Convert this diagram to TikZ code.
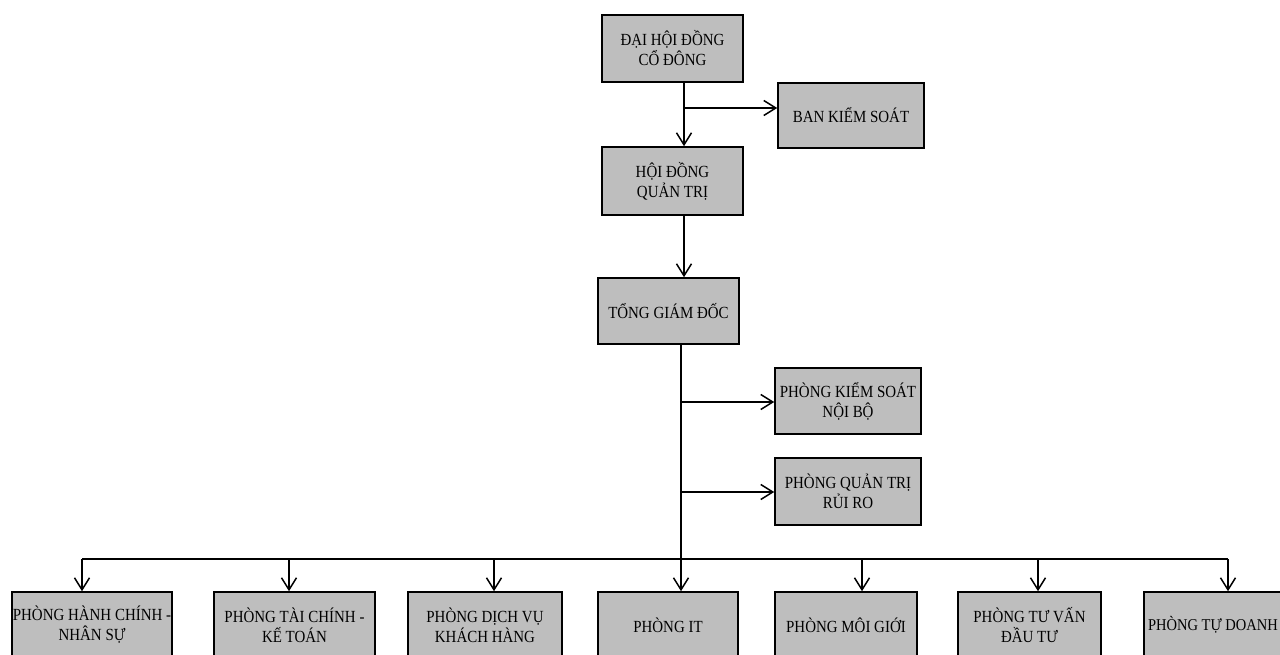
\documentclass[tikz,border=0pt]{standalone}
\usepackage{fontspec}
\setmainfont{Liberation Serif}[FakeStretch=0.88]
\usetikzlibrary{arrows.meta}
\definecolor{boxgray}{RGB}{190,190,190}
\tikzset{
  box/.style={draw=black, line width=1.6pt, fill=boxgray, align=center,
    font=\fontsize{17}{20}\selectfont, inner sep=0pt},
  arr/.style={line width=1.5pt, -{Straight Barb[length=12pt,width=15pt]}},
  ln/.style={line width=1.5pt}
}
\begin{document}
\begin{tikzpicture}[x=1pt,y=-1pt]
\useasboundingbox (0,0) rectangle (1280,655);
\fill[white] (0,0) rectangle (1280,655);
\clip (0,0) rectangle (1280,655);
% upper boxes
\node[box, minimum width=141pt, minimum height=67pt] (dh) at (672.5,48.5) {ĐẠI HỘI ĐỒNG\\CỔ ĐÔNG};
\node[box, minimum width=146pt, minimum height=65pt] (bks) at (851,115.5) {BAN KIỂM SOÁT};
\node[box, minimum width=141pt, minimum height=68pt] (hd) at (672.5,181) {HỘI ĐỒNG\\QUẢN TRỊ};
\node[box, minimum width=141pt, minimum height=66pt] (tgd) at (668.5,311) {TỔNG GIÁM ĐỐC};
\node[box, minimum width=146pt, minimum height=66pt] (ks) at (848,401) {PHÒNG KIỂM SOÁT\\NỘI BỘ};
\node[box, minimum width=146pt, minimum height=67pt] (qt) at (848,491.5) {PHÒNG QUẢN TRỊ\\RỦI RO};
% bottom boxes
\node[box, minimum width=160pt, minimum height=66pt] (b1) at (92,625) {PHÒNG HÀNH CHÍNH -\\NHÂN SỰ};
\node[box, minimum width=161pt, minimum height=66pt] (b2) at (294.5,625) {PHÒNG TÀI CHÍNH -\\KẾ TOÁN};
\node[box, minimum width=154pt, minimum height=66pt] (b3) at (485,625) {PHÒNG DỊCH VỤ\\KHÁCH HÀNG};
\node[box, minimum width=140pt, minimum height=66pt] (b4) at (668,625) {PHÒNG IT};
\node[box, minimum width=142pt, minimum height=66pt] (b5) at (846,625) {PHÒNG MÔI GIỚI};
\node[box, minimum width=143pt, minimum height=66pt] (b6) at (1029.5,625) {PHÒNG TƯ VẤN\\ĐẦU TƯ};
\node[box, minimum width=138pt, minimum height=66pt, font=\fontsize{16.5}{20}\selectfont] (b7) at (1213,625) {PHÒNG TỰ DOANH};
% junctions
\coordinate (j1) at (684,108);
\coordinate (j2) at (681,402);
\coordinate (j3) at (681,492);
\coordinate (bus) at (681,559);
\coordinate (t1) at (82,559);
\coordinate (t2) at (289,559);
\coordinate (t3) at (494,559);
\coordinate (t5) at (862,559);
\coordinate (t6) at (1038,559);
\coordinate (t7) at (1228,559);
% connectors
\draw[arr] (dh.south -| j1) -- (hd.north -| j1);
\draw[arr] (j1) -- (j1 -| bks.west);
\draw[arr] (hd.south -| j1) -- (tgd.north -| j1);
\draw[arr] (tgd.south -| bus) -- (bus |- b4.north);
\draw[arr] (j2) -- (j2 -| ks.west);
\draw[arr] (j3) -- (j3 -| qt.west);
\draw[ln] (t1) -- (t7);
\draw[arr] (t1) -- (t1 |- b1.north);
\draw[arr] (t2) -- (t2 |- b2.north);
\draw[arr] (t3) -- (t3 |- b3.north);
\draw[arr] (t5) -- (t5 |- b5.north);
\draw[arr] (t6) -- (t6 |- b6.north);
\draw[arr] (t7) -- (t7 |- b7.north);
\end{tikzpicture}
\end{document}
